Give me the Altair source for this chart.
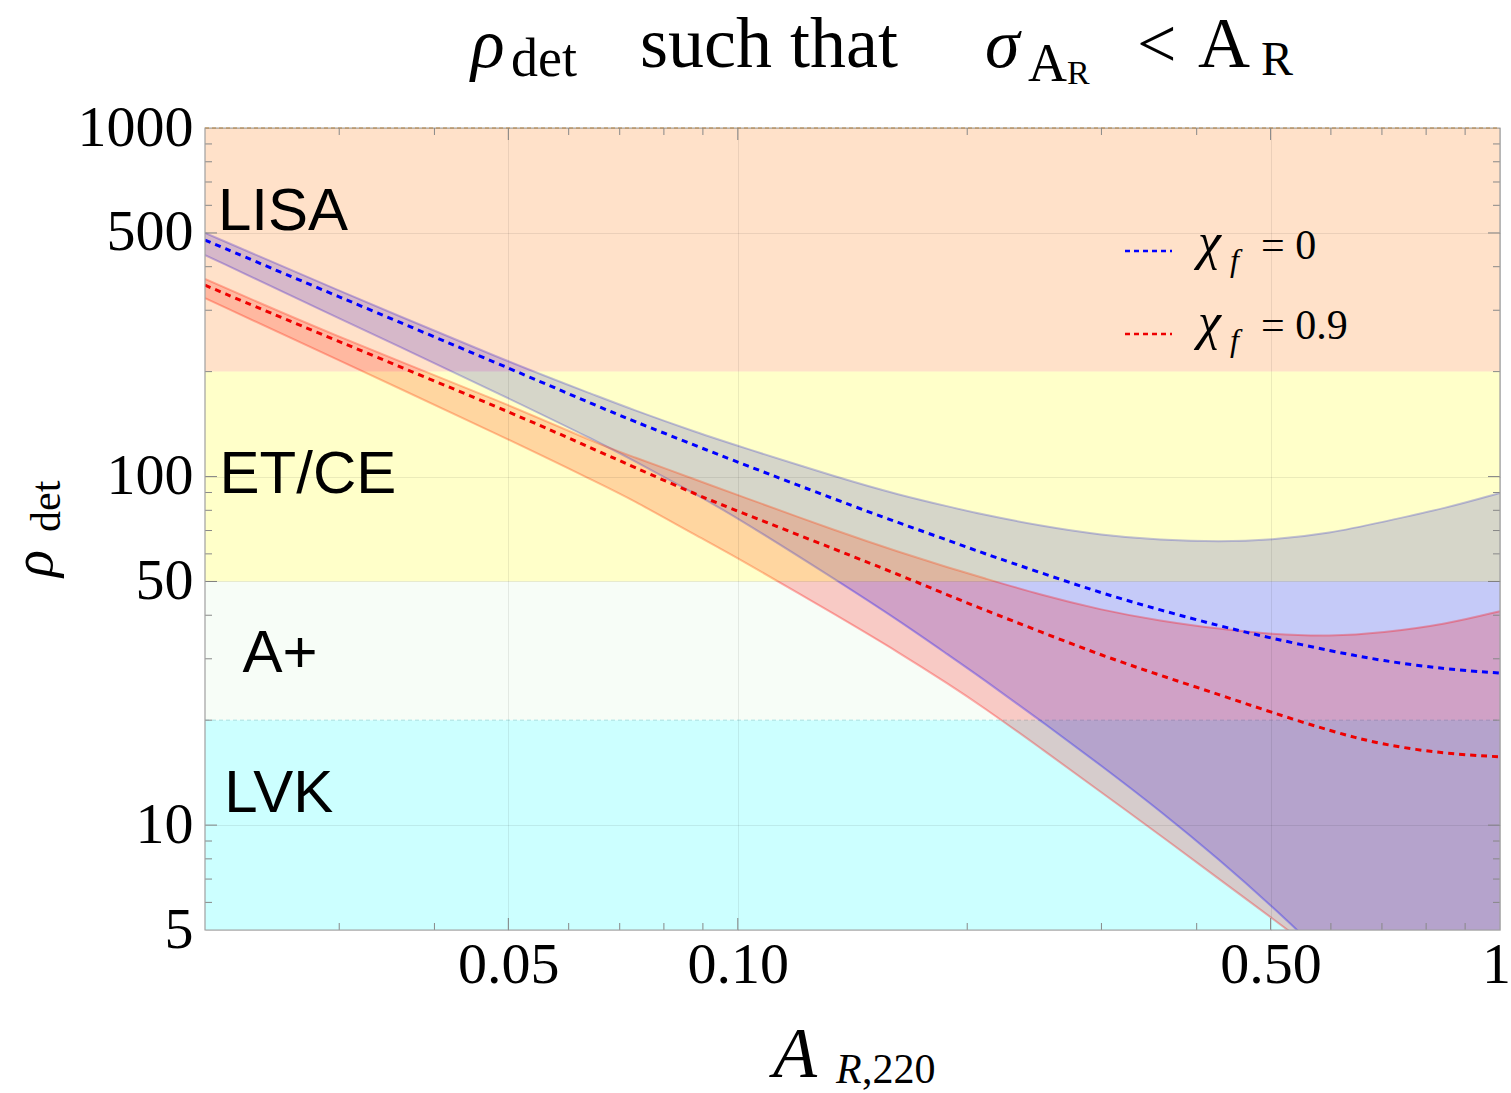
import altair as alt
import pandas as pd

# ---------------- data ----------------
A_R = [0.02, 0.029, 0.05, 0.066, 0.072, 0.089, 0.1, 0.136, 0.163, 0.19,
       0.208, 0.25, 0.3, 0.358, 0.43, 0.5, 0.6, 0.7, 0.85, 1.0]

chi0_upper = [500, 352, 213, 169, 157, 133, 122.5, 99, 88.5, 81.8,
              78.1, 72.1, 67.9, 65.7, 64.9, 65.7, 68.8, 74, 81.2, 89.7]
chi0_mid = [477, 338, 205, 158, 146, 121.5, 110, 85, 73.5, 65.3,
            60.7, 52.9, 46.3, 41.4, 37.2, 34.4, 31.6, 29.6, 28.0, 27.3]
chi0_lower = [432, 294.5, 168, 124.8, 113, 87.9, 76.0, 49.8, 38.5, 30.5,
              26.6, 19.9, 14.8, 11.0, 7.9, 5.9, 4.05, 2.95, 1.98, 1.41]

chi09_upper = [369, 258, 161.4, 123.1, 115.2, 97.1, 88.5, 69.3, 60.7, 54.6,
               51.5, 45.7, 41.4, 38.5, 36.5, 35.3, 34.8, 35.6, 37.7, 41.1]
chi09_mid = [354, 251, 154, 117.6, 108, 88, 79.6, 61.1, 52.2, 45.4,
             41.9, 35.8, 30.7, 26.9, 23.6, 21.1, 18.6, 17.0, 16.0, 15.7]
chi09_lower = [325, 223, 128, 95.2, 86.8, 67, 58.4, 39.5, 31.2, 25.2,
               22.1, 16.6, 12.4, 9.36, 6.95, 5.44, 4.04, 3.13, 2.26, 1.72]

detectors = ["LISA", "ET/CE", "A+", "LVK"]
det_low = [200, 50, 20, 5]
det_high = [1000, 200, 50, 20]
det_label_x = [0.0208, 0.0209, 0.0224, 0.0212]
det_label_y = [510, 89.7, 27.5, 10.9]

# LISA and ET/CE are translucent overlays, A+ and LVK are opaque backgrounds
overlay_names = ["LISA", "ET/CE"]
overlay_colors = ["#FF7000", "#FFFF00"]
under_names = ["A+", "LVK"]
under_colors = ["#F7FDF7", "#CCFFFF"]

x_major = [0.05, 0.1, 0.5]
x_minor = [0.03, 0.04, 0.06, 0.07, 0.08, 0.09, 0.2, 0.3, 0.4, 0.6, 0.7, 0.8, 0.9]
y_major = [10, 50, 100, 500]
y_minor = [6, 7, 8, 9, 20, 30, 40, 60, 70, 80, 90, 200, 300, 400, 600, 700, 800, 900]

# ---------------- layout ----------------
W, H = 1295, 802
SERIF = "Liberation Serif"
SANS = "Liberation Sans"

xscale = alt.Scale(type="log", domain=[0.02, 1], nice=False)
yscale = alt.Scale(type="log", domain=[5, 1000], nice=False)

xaxis = alt.Axis(values=[0.05, 0.1, 0.5, 1],
                 labelExpr="datum.value == 1 ? '1' : format(datum.value, '.2f')",
                 labelOffset={"condition": {"test": "datum.value == 1", "value": -4}, "value": 0},
                 labelFont=SERIF, labelFontSize=58, labelColor="black",
                 labelPadding=6, ticks=False, tickSize=0, domain=False,
                 grid=True, gridColor="#000000", gridOpacity=0.08, gridWidth=1,
                 labelOverlap=False, labelBound=False, labelFlush=False,
                 title=None, zindex=1)
yaxis = alt.Axis(values=[5, 10, 50, 100, 500, 1000], format="d",
                 labelFont=SERIF, labelFontSize=58, labelColor="black",
                 labelPadding=12, ticks=False, tickSize=0, domain=False,
                 grid=True, gridColor="#000000", gridOpacity=0.08, gridWidth=1,
                 labelOverlap=False, labelBound=False, labelFlush=False,
                 title=None, zindex=1)


def X(field):
    return alt.X(field, type="quantitative", scale=xscale, axis=xaxis)


def Y(field):
    return alt.Y(field, type="quantitative", scale=yscale, axis=yaxis)


curves = pd.DataFrame({
    "x": A_R,
    "bu": chi0_upper, "bm": chi0_mid, "bl": chi0_lower,
    "ru": chi09_upper, "rm": chi09_mid, "rl": chi09_lower,
})
bands_df = pd.DataFrame({"name": detectors, "lo": det_low, "hi": det_high})
labels_df = pd.DataFrame({"name": detectors, "x": det_label_x, "y": det_label_y})
one = pd.DataFrame({"a": [0]})

INTERP = "basis"
layers = []

# opaque bands (A+, LVK)
layers.append(
    alt.Chart(bands_df).transform_filter(
        alt.FieldOneOfPredicate(field="name", oneOf=under_names)
    ).mark_rect().encode(
        x=alt.value(0), x2=alt.value(W),
        y=Y("lo"), y2="hi",
        color=alt.Color("name:N", scale=alt.Scale(domain=under_names, range=under_colors), legend=None),
    )
)
layers.append(
    alt.Chart(pd.DataFrame({"v": [20]})).mark_rule(color="#A8E0E0", strokeDash=[4, 3], strokeWidth=1).encode(
        y=Y("v"), x=alt.value(0), x2=alt.value(W))
)

# uncertainty regions
layers.append(
    alt.Chart(curves).mark_area(fill="#0000FF", fillOpacity=0.2, clip=True, interpolate=INTERP).encode(
        x=X("x"), y=Y("bl"), y2="bu")
)
layers.append(
    alt.Chart(curves).mark_area(fill="#FF0000", fillOpacity=0.2, clip=True, interpolate=INTERP).encode(
        x=X("x"), y=Y("rl"), y2="ru")
)
for f, c in [("bu", "#0000FF"), ("bl", "#0000FF"), ("ru", "#FF0000"), ("rl", "#FF0000")]:
    layers.append(
        alt.Chart(curves).mark_line(color=c, opacity=0.3, strokeWidth=2, clip=True, interpolate=INTERP).encode(
            x=X("x"), y=Y(f))
    )

# translucent bands (LISA, ET/CE) on top of the regions
layers.append(
    alt.Chart(bands_df).transform_filter(
        alt.FieldOneOfPredicate(field="name", oneOf=overlay_names)
    ).mark_rect(fillOpacity=0.21).encode(
        x=alt.value(0), x2=alt.value(W),
        y=Y("lo"), y2="hi",
        fill=alt.Fill("name:N", scale=alt.Scale(domain=overlay_names, range=overlay_colors), legend=None),
    )
)
layers.append(
    alt.Chart(pd.DataFrame({"v": [1000]})).mark_rule(color="#E8A040", strokeDash=[4, 3], strokeWidth=1.5).encode(
        y=Y("v"), x=alt.value(0), x2=alt.value(W))
)

# central dashed curves
layers.append(
    alt.Chart(curves).mark_line(color="#0000FF", strokeDash=[6, 5], strokeWidth=3, clip=True, interpolate=INTERP).encode(
        x=X("x"), y=Y("bm"))
)
layers.append(
    alt.Chart(curves).mark_line(color="#EE0000", strokeDash=[6, 5], strokeWidth=3, clip=True, interpolate=INTERP).encode(
        x=X("x"), y=Y("rm"))
)


# frame ticks (inward)
def xticks(vals, length):
    d = pd.DataFrame({"v": vals})
    bot = alt.Chart(d).mark_rule(color="#888888", strokeWidth=1).encode(
        x=X("v"), y=alt.value(H), y2=alt.value(H - length))
    top = alt.Chart(d).mark_rule(color="#888888", strokeWidth=1).encode(
        x=X("v"), y=alt.value(0), y2=alt.value(length))
    return [bot, top]


def yticks(vals, length):
    d = pd.DataFrame({"v": vals})
    left = alt.Chart(d).mark_rule(color="#888888", strokeWidth=1).encode(
        y=Y("v"), x=alt.value(0), x2=alt.value(length))
    right = alt.Chart(d).mark_rule(color="#888888", strokeWidth=1).encode(
        y=Y("v"), x=alt.value(W), x2=alt.value(W - length))
    return [left, right]


layers += xticks(x_major, 12) + xticks(x_minor, 7) + yticks(y_major, 12) + yticks(y_minor, 7)

# frame
layers.append(
    alt.Chart(one).mark_rect(fillOpacity=0, stroke="#A0A0A0", strokeWidth=1.2).encode(
        x=alt.value(0), x2=alt.value(W), y=alt.value(0), y2=alt.value(H))
)

# detector labels
layers.append(
    alt.Chart(labels_df).mark_text(font=SANS, fontSize=60, align="left", baseline="alphabetic", color="black").encode(
        x=X("x"), y=Y("y"), text="name:N")
)


def txt(s, x, y, size, italic=False, font=SERIF, angle=0, color="black", align="left"):
    kw = dict(text=s, font=font, fontSize=size, align=align, baseline="alphabetic", color=color)
    if italic:
        kw["fontStyle"] = "italic"
    if angle:
        kw["angle"] = angle
    return alt.Chart(one).mark_text(**kw).encode(x=alt.value(x), y=alt.value(y))


# legend
layers.append(alt.Chart(one).mark_rule(color="#0000FF", strokeDash=[5, 4], strokeWidth=2.5).encode(
    x=alt.value(920), x2=alt.value(967), y=alt.value(123)))
layers.append(alt.Chart(one).mark_rule(color="#EE0000", strokeDash=[5, 4], strokeWidth=2.5).encode(
    x=alt.value(920), x2=alt.value(967), y=alt.value(206)))
layers += [
    txt("χ", 993, 131, 52, italic=True),
    txt("f", 1025, 143, 32, italic=True),
    txt("= 0", 1056, 131, 42),
    txt("χ", 993, 211, 52, italic=True),
    txt("f", 1025, 223, 32, italic=True),
    txt("= 0.9", 1056, 211, 42),
]

# title
layers += [
    txt("ρ", 266, -61, 70, italic=True),
    txt("det", 306, -52, 54),
    txt("such that", 435, -61, 72),
    txt("σ", 780, -61, 70, italic=True),
    txt("A", 823, -47, 54),
    txt("R", 862, -44, 34),
    txt("<", 932, -61, 70),
    txt("A", 993, -61, 72),
    txt("R", 1056, -53, 48),
]

# x axis title
layers += [
    txt("A", 568, 949, 72, italic=True),
    txt("R", 631, 955, 42, italic=True),
    txt(",220", 657, 955, 42),
]

# y axis title (rotated)
layers += [
    txt("ρ", -153, 449, 56, italic=True, angle=270),
    txt("det", -145, 404, 42, angle=270),
]

chart = alt.layer(*layers).properties(
    width=W, height=H,
    padding={"left": 205, "top": 128, "right": 11, "bottom": 163},
    autosize=alt.AutoSizeParams(type="none"),
    background="white",
).configure_view(strokeWidth=0)

chart.save("out.html", embed_options={"renderer": "svg", "actions": False})
